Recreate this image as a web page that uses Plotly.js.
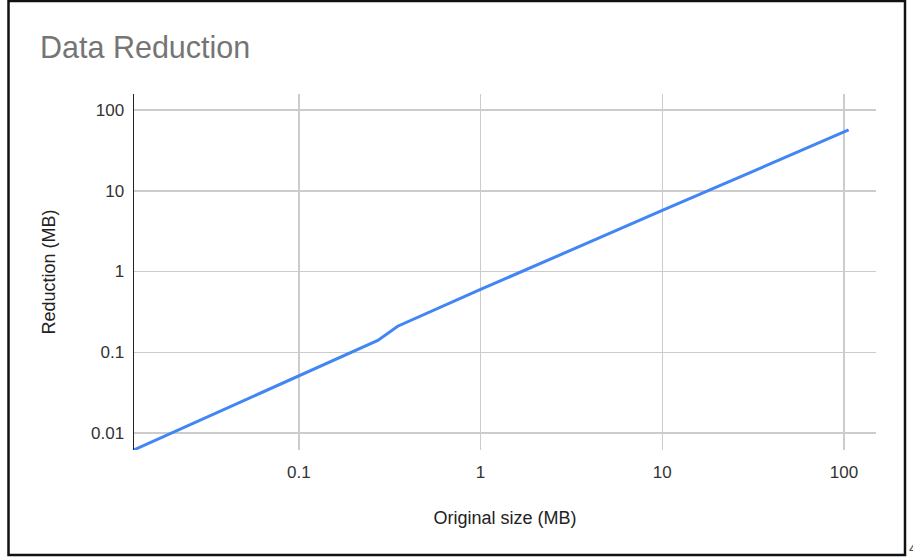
<!DOCTYPE html>
<html>
<head>
<meta charset="utf-8">
<script src="https://cdn.plot.ly/plotly-3.0.1.min.js"></script>
<style>
  html, body { margin: 0; padding: 0; background: #fff; }
  #chart { width: 913px; height: 558px; }
</style>
</head>
<body>
<div id="chart"></div>
<script>
// Data
const originalSizeMB = [0.0124, 0.272, 0.35, 1.0, 10, 106];
const reductionMB    = [0.0062, 0.14, 0.21, 0.6, 5.7, 56.6];
const xTickVals = [0.1, 1, 10, 100];
const xTickText = ['0.1', '1', '10', '100'];
const yTickVals = [0.01, 0.1, 1, 10, 100];
const yTickText = ['0.01', '0.1', '1', '10', '100'];

const trace = {
  x: originalSizeMB,
  y: reductionMB,
  type: 'scatter',
  mode: 'lines',
  line: { color: '#4285F4', width: 3 },
  hoverinfo: 'x+y'
};

const layout = {
  width: 913,
  height: 558,
  margin: { l: 134, r: 37, t: 94, b: 108 },
  paper_bgcolor: '#ffffff',
  plot_bgcolor: '#ffffff',
  showlegend: false,
  font: { family: 'Liberation Sans, Arial, sans-serif', color: '#333' },
  title: {
    text: 'Data Reduction',
    font: { family: 'Liberation Sans, Arial, sans-serif', size: 30.5, color: '#757575' },
    xref: 'container', x: 40 / 913, xanchor: 'left',
    yref: 'container', y: 1 - 47 / 558, yanchor: 'middle'
  },
  xaxis: {
    type: 'log',
    range: [-1.907, 2.176],
    tickvals: xTickVals,
    ticktext: xTickText,
    tickfont: { family: 'Liberation Sans, Arial, sans-serif', size: 17, color: '#333' },
    showgrid: true,
    gridcolor: '#cccccc',
    gridwidth: 1.5,
    showline: false,
    zeroline: false,
    ticks: '',
    ticklabelstandoff: 10,
    title: { text: 'Original size (MB)', font: { family: 'Liberation Sans, Arial, sans-serif', size: 18, color: '#222' }, standoff: 30 },
    automargin: false
  },
  yaxis: {
    type: 'log',
    range: [-2.21, 2.198],
    tickvals: yTickVals,
    ticktext: yTickText,
    tickfont: { family: 'Liberation Sans, Arial, sans-serif', size: 17, color: '#333' },
    showgrid: true,
    gridcolor: '#cccccc',
    gridwidth: 1.5,
    showline: true,
    linecolor: '#222',
    linewidth: 1.5,
    zeroline: false,
    ticks: '',
    ticklabelstandoff: 5,
    title: { text: 'Reduction (MB)', font: { family: 'Liberation Sans, Arial, sans-serif', size: 18, color: '#222' }, standoff: 30 },
    automargin: false
  },
  shapes: [
    {
      type: 'rect', xref: 'paper', yref: 'paper', layer: 'above',
      x0: (8.5 - 134) / 742, x1: (905 - 134) / 742,
      y0: (450 - 555) / 356, y1: (450 - 1) / 356,
      line: { color: '#111', width: 2.5 }, fillcolor: 'rgba(0,0,0,0)'
    }
  ],
  annotations: [
    {
      text: '4', xref: 'paper', yref: 'paper', showarrow: false,
      x: (907 - 134) / 742, xanchor: 'left',
      y: (450 - 547) / 356, yanchor: 'middle',
      font: { size: 15, color: '#555' }
    }
  ]
};

Plotly.newPlot('chart', [trace], layout, { displayModeBar: false, staticPlot: true });
</script>
</body>
</html>
